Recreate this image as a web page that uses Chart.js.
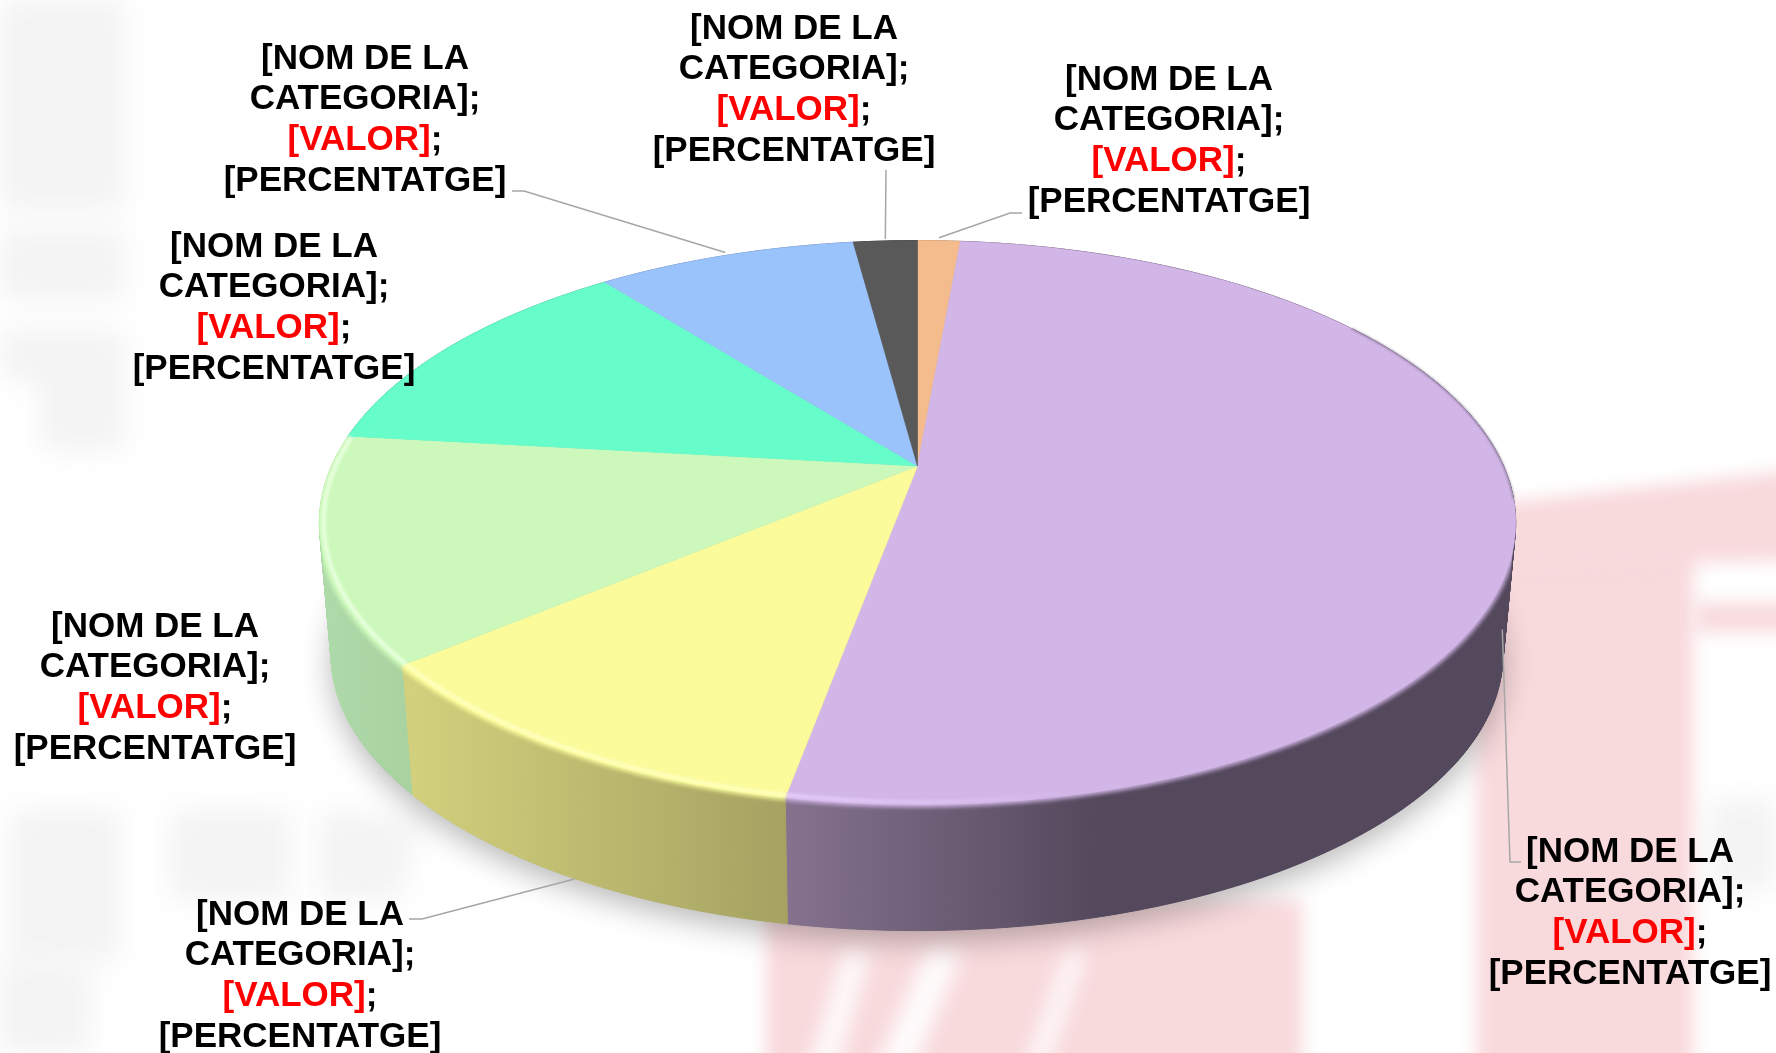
<!DOCTYPE html>
<html lang="ca">
<head>
<meta charset="utf-8">
<title>Gràfic circular 3D</title>
<script src="https://cdn.jsdelivr.net/npm/chart.js@4"></script>
<style>
    html, body { margin: 0; padding: 0; background: #fff; overflow: hidden; }
    canvas { display: block; }
</style>
</head>
<body>
<canvas id="pastis" width="1776" height="1053"></canvas>
<script>
// Values (share of the pie, clockwise from the top)
const categories = ['[NOM DE LA CATEGORIA]', '[NOM DE LA CATEGORIA]', '[NOM DE LA CATEGORIA]', '[NOM DE LA CATEGORIA]', '[NOM DE LA CATEGORIA]', '[NOM DE LA CATEGORIA]', '[NOM DE LA CATEGORIA]'];
const values = [1.4, 51.5, 11.0, 12.9, 12.6, 8.5, 2.1];
const labelLines = ['[NOM DE LA', 'CATEGORIA];', '[VALOR]', ';', '[PERCENTATGE]'];

// Styles
const topColors = ['#f4bc8c', '#d2b6e7', '#fbfb9b', '#ccf9bb', '#66fdcb', '#9ac2fb', '#595959'];
const rimColors = ['#f4bc8c', '#e4ccf9', '#ffffbe', '#eaffe0', '#66fdcb', '#9ac2fb', '#595959'];
const wallFrom = ['#a87f5e', '#85728f', '#d2d07c', '#aed9a8', '#46ad8c', '#6a86ad', '#3d3d3d'];
const wallTo = ['#a87f5e', '#54485c', '#a5a262', '#a8d2a0', '#46ad8c', '#6a86ad', '#3d3d3d'];
const wallRange = [[0, 1], [786, 1100], [416, 786], [331, 416], [0, 1], [0, 1], [0, 1]];

// Pie geometry: the top face is a tilted disc seen in perspective
const topFace = { cx: 917.5, cy: 466, a: 586, b: 270.7, k: 0.2008 };
const bottomFace = { cx: 917, cy: 599, a: 574, b: 265, k: 0.2008 };

// Label block centres and leader lines (slice index, label end, elbow, nudge of the anchor)
const labelBoxes = [
    { x: 1169, y: 80 }, { x: 1630, y: 852 }, { x: 300, y: 915 }, { x: 155, y: 627 },
    { x: 274, y: 247 }, { x: 365, y: 59 }, { x: 794, y: 29 }
];
const leaders = [
    { slice: 0, from: [1022, 213], elbow: [1010, 213], nudge: [0, -3] },
    { slice: 1, from: [1521, 862], elbow: [1510, 862], nudge: [-12, 126] },
    { slice: 2, from: [409, 919], elbow: [422, 919], nudge: [14, 130] },
    { slice: 5, from: [512, 191], elbow: [524, 191], nudge: [0, -3] },
    { slice: 6, from: [886, 170], elbow: [886, 170], nudge: [0, -2] }
];

// Washed out picture behind the chart
const pinkShapes = [
    [[1477, 520], [1693, 500], [1693, 1080], [1477, 1080]],
    [[1400, 515], [1800, 470], [1800, 560], [1400, 570]],
    [[1695, 603], [1800, 603], [1800, 632], [1695, 632]],
    [[766, 900], [1302, 900], [1302, 1080], [766, 1080]]
];
const whiteStreaks = [
    [[846, 950], [870, 950], [829, 1090], [803, 1090]],
    [[928, 950], [962, 950], [904, 1090], [868, 1090]],
    [[1068, 950], [1086, 950], [1038, 1090], [1018, 1090]]
];
const grayShapes = [
    [[0, 0], [125, 0], [125, 210], [0, 210]],
    [[0, 230], [125, 230], [125, 300], [0, 300]],
    [[0, 330], [125, 330], [125, 450], [40, 450], [40, 380], [0, 380]],
    [[10, 810], [120, 810], [120, 960], [10, 960]],
    [[170, 810], [290, 810], [290, 900], [170, 900]],
    [[320, 810], [420, 820], [400, 900], [320, 900]],
    [[0, 960], [90, 960], [90, 1053], [0, 1053]],
    [[1710, 800], [1776, 800], [1776, 890], [1710, 890]]
];

function project(face, angle, scale = 1) {
    const u = Math.cos(angle) * scale;
    const v = Math.sin(angle) * scale;
    const d = 1 - face.k * v;
    return [face.cx + face.a * u / d, face.cy + face.b * v / d];
}

function arcPoints(face, from, to, scale = 1) {
    const steps = Math.max(2, Math.ceil(Math.abs(to - from) / 0.01));
    const pts = [];
    for (let i = 0; i <= steps; i++) {
        pts.push(project(face, from + (to - from) * i / steps, scale));
    }
    return pts;
}

function tracePath(ctx, pts, close) {
    ctx.beginPath();
    pts.forEach((p, i) => i ? ctx.lineTo(p[0], p[1]) : ctx.moveTo(p[0], p[1]));
    if (close) ctx.closePath();
}

function strokeRim(ctx, from, to, color, width, blur, scale) {
    if (to <= from) return;
    ctx.save();
    ctx.filter = `blur(${blur}px)`;
    ctx.strokeStyle = color;
    ctx.lineWidth = width;
    tracePath(ctx, arcPoints(topFace, from, to, scale), false);
    ctx.stroke();
    ctx.restore();
}

const backdrop = {
    id: 'backdrop',
    beforeDraw(chart) {
        const ctx = chart.ctx;
        ctx.save();
        ctx.fillStyle = '#fff';
        ctx.fillRect(0, 0, chart.width, chart.height);
        ctx.filter = 'blur(14px)';
        ctx.fillStyle = '#f3f3f3';
        grayShapes.forEach(s => { tracePath(ctx, s, true); ctx.fill(); });
        ctx.filter = 'blur(9px)';
        ctx.fillStyle = '#f8d9dc';
        pinkShapes.forEach(s => { tracePath(ctx, s, true); ctx.fill(); });
        ctx.filter = 'blur(11px)';
        ctx.fillStyle = '#fff';
        whiteStreaks.forEach(s => { tracePath(ctx, s, true); ctx.fill(); });
        ctx.restore();
    }
};

// Draws the slices from the angles the library worked out, as a tilted disc with a wall
const pie3d = {
    id: 'pie3d',
    beforeDatasetsDraw(chart) {
        const ctx = chart.ctx;
        const arcs = chart.getDatasetMeta(0).data;
        // outline of the whole solid: back of the top face, front of the bottom face
        const outline = arcPoints(topFace, Math.PI - 0.2, Math.PI * 2 + 0.2)
            .concat(arcPoints(bottomFace, 0.2, Math.PI - 0.2));
        ctx.save();

        // soft shadow under the pie
        ctx.save();
        ctx.shadowColor = 'rgba(0,0,0,0.28)';
        ctx.shadowBlur = 30;
        ctx.shadowOffsetY = 10;
        ctx.fillStyle = '#888';
        tracePath(ctx, arcPoints(bottomFace, 0, Math.PI * 2), true);
        ctx.fill();
        ctx.restore();

        // walls, filled strip by strip so the sides reach the outline
        arcs.forEach((arc, i) => {
            const rim = arcPoints(topFace, arc.startAngle, arc.endAngle);
            const base = arcPoints(bottomFace, arc.startAngle, arc.endAngle);
            const g = ctx.createLinearGradient(wallRange[i][0], 0, wallRange[i][1], 0);
            g.addColorStop(0, wallFrom[i]);
            g.addColorStop(1, wallTo[i]);
            ctx.fillStyle = g;
            ctx.strokeStyle = g;
            ctx.lineWidth = 1;
            for (let s = 0; s < rim.length - 1; s++) {
                tracePath(ctx, [rim[s], rim[s + 1], base[s + 1], base[s]], true);
                ctx.fill();
                ctx.stroke();
            }
        });

        // top face
        arcs.forEach((arc, i) => {
            const pts = arcPoints(topFace, arc.startAngle, arc.endAngle);
            pts.unshift([topFace.cx, topFace.cy]);
            ctx.fillStyle = topColors[i];
            ctx.strokeStyle = topColors[i];
            ctx.lineWidth = 0.6;
            tracePath(ctx, pts, true);
            ctx.fill();
            ctx.stroke();
        });

        // bevel stays inside the pie outline
        ctx.save();
        tracePath(ctx, outline, true);
        ctx.clip();

        arcs.forEach((arc, i) => {
            const a0 = Math.max(arc.startAngle, -0.05);
            const a1 = Math.min(arc.endAngle, Math.PI + 0.2);
            strokeRim(ctx, a0, a1, topColors[i], 5, 2.2, 1);
        });
        arcs.forEach((arc, i) => {
            const a0 = Math.max(arc.startAngle, Math.PI / 2 - 0.3);
            const a1 = Math.min(arc.endAngle, Math.PI + 0.22);
            let color = rimColors[i];
            if (i === 1) {
                color = ctx.createLinearGradient(784, 0, 1080, 0);
                color.addColorStop(0, rimColors[i]);
                color.addColorStop(1, topColors[i]);
            }
            strokeRim(ctx, a0, a1, color, 4, 1.6, 0.993);
        });
        ctx.restore();

        // dark thin edge on the far right
        strokeRim(ctx, -0.6, 0.12, 'rgba(70,60,80,0.5)', 1.6, 0.8, 1);

        ctx.restore();
        return false;
    },
    // afterDatasetsDraw is skipped once the dataset draw is cancelled
    afterDraw(chart) {
        const ctx = chart.ctx;
        const arcs = chart.getDatasetMeta(0).data;
        ctx.save();

        // leader lines
        ctx.strokeStyle = '#a6a6a6';
        ctx.lineWidth = 1.5;
        leaders.forEach(l => {
            const arc = arcs[l.slice];
            const p = project(topFace, (arc.startAngle + arc.endAngle) / 2);
            tracePath(ctx, [l.from, l.elbow, [p[0] + l.nudge[0], p[1] + l.nudge[1]]], false);
            ctx.stroke();
        });

        // labels
        ctx.font = 'bold 35px "Liberation Sans", Arial, sans-serif';
        ctx.textBaseline = 'middle';
        ctx.textAlign = 'left';
        const lineStep = 40.8;
        labelBoxes.forEach(box => {
            const centred = (text, y, color) => {
                ctx.fillStyle = color;
                ctx.fillText(text, box.x - ctx.measureText(text).width / 2, y);
            };
            centred(labelLines[0], box.y, '#000');
            centred(labelLines[1], box.y + lineStep, '#000');
            const w1 = ctx.measureText(labelLines[2]).width;
            const w2 = ctx.measureText(labelLines[3]).width;
            const x0 = box.x - (w1 + w2) / 2;
            ctx.fillStyle = '#ff0000';
            ctx.fillText(labelLines[2], x0, box.y + lineStep * 2);
            ctx.fillStyle = '#000';
            ctx.fillText(labelLines[3], x0 + w1, box.y + lineStep * 2);
            centred(labelLines[4], box.y + lineStep * 3, '#000');
        });
        ctx.restore();
    }
};

new Chart(document.getElementById('pastis'), {
    type: 'pie',
    data: {
        labels: categories,
        datasets: [{ data: values, backgroundColor: topColors, borderWidth: 0 }]
    },
    options: {
        responsive: false,
        animation: false,
        plugins: { legend: { display: false }, tooltip: { enabled: false } }
    },
    plugins: [backdrop, pie3d]
});
</script>
</body>
</html>
